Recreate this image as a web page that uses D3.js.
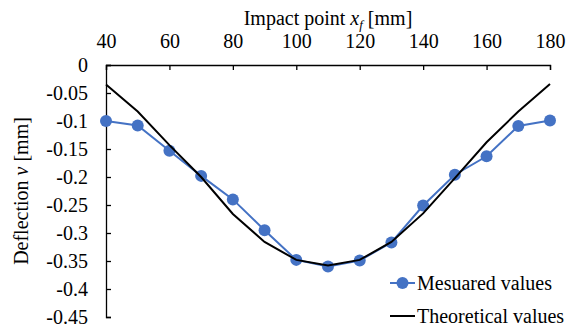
<!DOCTYPE html>
<html>
<head>
<meta charset="utf-8">
<script src="https://cdn.jsdelivr.net/npm/d3@7"></script>
<style>
  body { margin: 0; background: #fff; }
  svg, svg text { font-family: "Liberation Serif", "Times New Roman", serif !important; }
</style>
</head>
<body>
<div id="chart"></div>
<script>
// data
var impactPoints = [40, 50, 60, 70, 80, 90, 100, 110, 120, 130, 140, 150, 160, 170, 180];
var measuredValues = [-0.1, -0.108, -0.153, -0.198, -0.24, -0.295, -0.348, -0.36, -0.349, -0.317, -0.251, -0.196, -0.163, -0.109, -0.099];
var theoreticalValues = [-0.035, -0.083, -0.143, -0.2, -0.266, -0.316, -0.348, -0.358, -0.348, -0.316, -0.265, -0.202, -0.138, -0.083, -0.034];
var xTicks = [40, 60, 80, 100, 120, 140, 160, 180];
var yTicks = [0, -0.05, -0.1, -0.15, -0.2, -0.25, -0.3, -0.35, -0.4, -0.45];
var seriesNames = ["Mesuared values", "Theoretical values"];

var svgWidth = 575;
var svgHeight = 327;
var margin = { top: 65, right: 25, bottom: 10, left: 106 };
var chartWidth = 550 - margin.left;
var chartHeight = 317 - margin.top;
var blue = "#4472C4";
var serif = "'Liberation Serif', 'Times New Roman', serif";

var svg = d3.select("#chart")
    .append("svg")
    .attr("width", svgWidth)
    .attr("height", svgHeight)
    .style("font-family", serif);

var chartGroup = svg.append("g")
    .attr("transform", `translate(${margin.left}, ${margin.top})`);

var xScale = d3.scaleLinear().domain([40, 180]).range([0, chartWidth]);
var yScale = d3.scaleLinear().domain([-0.45, 0]).range([chartHeight, 0]);

// axes: ticks point into the plot
var topAxis = d3.axisTop(xScale).tickValues(xTicks).tickSize(-5).tickPadding(17).tickFormat(d3.format("d"));
var leftAxis = d3.axisLeft(yScale).tickValues(yTicks).tickSize(-5).tickPadding(18)
    .tickFormat(function(d) { return d === 0 ? "0" : String(+d.toFixed(2)); });

var gx = chartGroup.append("g").call(topAxis);
var gy = chartGroup.append("g").call(leftAxis);
[gx, gy].forEach(function(g) {
    g.attr("font-family", null).attr("font-size", null);
    g.select(".domain").attr("stroke", "#000").attr("stroke-width", 1.3);
    g.selectAll(".tick line").attr("stroke", "#000").attr("stroke-width", 1.3);
    g.selectAll("text").style("font-family", serif).style("font-size", "20px").attr("fill", "#000");
});

var pts = impactPoints.map(function(x, i) {
    return { x: x, m: measuredValues[i], t: theoreticalValues[i] };
});

// measured series
chartGroup.append("path")
    .datum(pts)
    .attr("fill", "none")
    .attr("stroke", blue)
    .attr("stroke-width", 2)
    .attr("d", d3.line().x(d => xScale(d.x)).y(d => yScale(d.m)));

chartGroup.selectAll("circle.meas")
    .data(pts)
    .enter()
    .append("circle")
    .attr("class", "meas")
    .attr("cx", d => xScale(d.x))
    .attr("cy", d => yScale(d.m))
    .attr("r", 6)
    .attr("fill", blue);

// theoretical series
chartGroup.append("path")
    .datum(pts)
    .attr("fill", "none")
    .attr("stroke", "#000")
    .attr("stroke-width", 2)
    .attr("d", d3.line().x(d => xScale(d.x)).y(d => yScale(d.t)));

// axis titles
var xTitle = svg.append("text")
    .attr("x", 328)
    .attr("y", 25)
    .attr("text-anchor", "middle")
    .style("font-family", serif)
    .style("font-size", "20px");
xTitle.append("tspan").text("Impact point ");
xTitle.append("tspan").attr("font-style", "italic").text("x");
xTitle.append("tspan").attr("font-style", "italic").style("font-size", "13px").attr("dy", 4).text("f");
xTitle.append("tspan").attr("dy", -4).text("\u00a0[mm]");

var yTitle = svg.append("text")
    .attr("transform", "translate(28, 191) rotate(-90)")
    .attr("text-anchor", "middle")
    .style("font-family", serif)
    .style("font-size", "20px");
yTitle.append("tspan").text("Deflection ");
yTitle.append("tspan").attr("font-style", "italic").text("v");
yTitle.append("tspan").text(" [mm]");

// legend
var legend = svg.append("g").attr("transform", "translate(390, 283)");
var rows = legend.selectAll("g").data(seriesNames).enter().append("g")
    .attr("transform", (d, i) => `translate(0, ${i * 33})`);
rows.append("line")
    .attr("x1", 0).attr("x2", 25).attr("y1", 0).attr("y2", 0)
    .attr("stroke", (d, i) => i === 0 ? blue : "#000")
    .attr("stroke-width", 2);
rows.filter((d, i) => i === 0).append("circle")
    .attr("cx", 12.5).attr("cy", 0).attr("r", 6).attr("fill", blue);
rows.append("text")
    .attr("x", 27)
    .attr("y", 0)
    .attr("dy", "0.35em")
    .style("font-family", serif)
    .style("font-size", "20px")
    .text(d => d);
</script>
</body>
</html>
